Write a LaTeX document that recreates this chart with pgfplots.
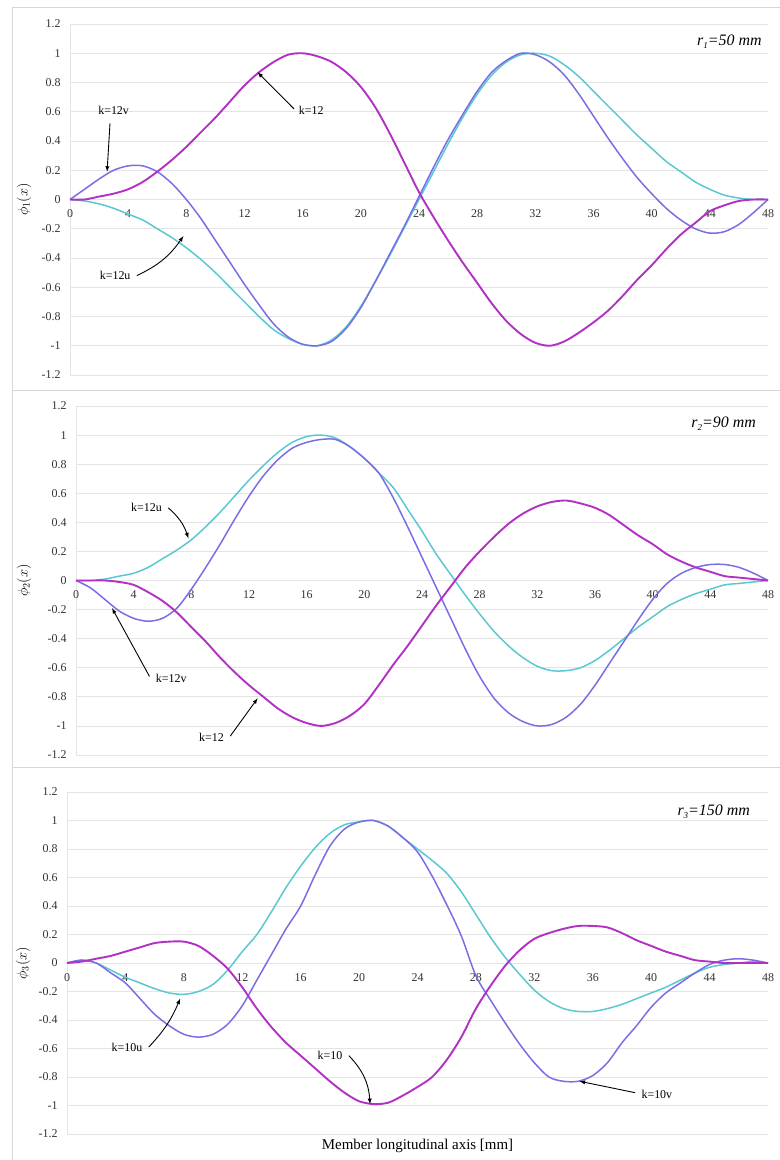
\documentclass[border=0pt]{standalone}
\usepackage{pgfplots}
\pgfplotsset{compat=1.18}
\usepackage{pgfplotstable}
\usepackage{fontspec}
\setmainfont{Liberation Serif}
\definecolor{cM}{RGB}{178,48,196}
\definecolor{cT}{RGB}{90,200,210}
\definecolor{cV}{RGB}{122,110,228}
\definecolor{gridc}{RGB}{228,228,228}
\definecolor{framec}{RGB}{215,215,215}

\pgfplotstableread{
x m t v
0 0 0 0
1 0.00 -0.01 0.07
2 0.02 -0.03 0.14
3 0.04 -0.06 0.20
4 0.07 -0.10 0.23
5 0.12 -0.14 0.23
6 0.19 -0.20 0.19
7 0.27 -0.26 0.11
8 0.36 -0.33 0.00
9 0.46 -0.41 -0.13
10 0.56 -0.50 -0.28
11 0.67 -0.60 -0.43
12 0.78 -0.70 -0.58
13 0.87 -0.80 -0.72
14 0.94 -0.89 -0.85
15 0.99 -0.95 -0.94
16 1.00 -0.99 -0.99
17 0.98 -1.00 -1.00
18 0.94 -0.96 -0.97
19 0.87 -0.87 -0.88
20 0.77 -0.73 -0.74
21 0.63 -0.56 -0.56
22 0.45 -0.38 -0.37
23 0.25 -0.19 -0.18
24 0.05 0.00 0.02
25 -0.12 0.19 0.22
26 -0.28 0.38 0.41
27 -0.43 0.56 0.58
28 -0.57 0.72 0.74
29 -0.71 0.85 0.87
30 -0.83 0.94 0.95
31 -0.92 0.99 1.00
32 -0.98 1.00 0.99
33 -1.00 0.98 0.94
34 -0.97 0.92 0.85
35 -0.91 0.84 0.72
36 -0.84 0.74 0.57
37 -0.76 0.64 0.42
38 -0.66 0.54 0.28
39 -0.55 0.44 0.15
40 -0.45 0.35 0.04
41 -0.34 0.26 -0.06
42 -0.24 0.19 -0.14
43 -0.16 0.12 -0.20
44 -0.08 0.07 -0.23
45 -0.04 0.03 -0.22
46 -0.01 0.01 -0.17
47 0.00 0.00 -0.09
48 0 0 0
}\dataA

\pgfplotstableread{
x m t v
0 0 0 0
1 0 0.00 -0.05
2 0 0.01 -0.13
3 -0.01 0.03 -0.21
4 -0.03 0.05 -0.26
5 -0.08 0.09 -0.28
6 -0.14 0.15 -0.26
7 -0.22 0.21 -0.19
8 -0.32 0.28 -0.06
9 -0.42 0.37 0.09
10 -0.53 0.47 0.25
11 -0.63 0.58 0.42
12 -0.72 0.69 0.58
13 -0.80 0.79 0.72
14 -0.88 0.88 0.83
15 -0.94 0.95 0.91
16 -0.98 0.99 0.95
17 -1.00 1.00 0.97
18 -0.98 0.98 0.97
19 -0.93 0.92 0.92
20 -0.85 0.84 0.84
21 -0.72 0.74 0.74
22 -0.58 0.64 0.57
23 -0.45 0.49 0.37
24 -0.31 0.34 0.16
25 -0.17 0.18 -0.05
26 -0.04 0.04 -0.26
27 0.09 -0.10 -0.47
28 0.20 -0.23 -0.66
29 0.30 -0.35 -0.81
30 0.39 -0.45 -0.91
31 0.46 -0.53 -0.97
32 0.51 -0.59 -1.00
33 0.54 -0.62 -0.99
34 0.55 -0.62 -0.94
35 0.53 -0.60 -0.85
36 0.50 -0.55 -0.72
37 0.45 -0.48 -0.57
38 0.38 -0.40 -0.42
39 0.31 -0.32 -0.27
40 0.25 -0.25 -0.13
41 0.18 -0.18 -0.02
42 0.13 -0.13 0.05
43 0.09 -0.09 0.09
44 0.06 -0.06 0.11
45 0.03 -0.03 0.11
46 0.02 -0.02 0.09
47 0.01 -0.01 0.05
48 0 0 0
}\dataB

\pgfplotstableread{
x m t v
0 0 0 0
1 0.01 0.02 0.02
2 0.03 0.00 0.00
3 0.05 -0.05 -0.07
4 0.08 -0.10 -0.14
5 0.11 -0.14 -0.25
6 0.14 -0.18 -0.36
7 0.15 -0.21 -0.44
8 0.15 -0.22 -0.50
9 0.12 -0.20 -0.52
10 0.05 -0.15 -0.50
11 -0.04 -0.05 -0.43
12 -0.17 0.08 -0.30
13 -0.32 0.20 -0.12
14 -0.45 0.36 0.06
15 -0.56 0.53 0.24
16 -0.65 0.68 0.40
17 -0.74 0.81 0.62
18 -0.83 0.91 0.82
19 -0.91 0.97 0.94
20 -0.97 0.99 0.99
21 -0.99 1.00 1.00
22 -0.98 0.96 0.96
23 -0.93 0.88 0.88
24 -0.87 0.80 0.78
25 -0.80 0.72 0.61
26 -0.68 0.63 0.41
27 -0.52 0.50 0.19
28 -0.32 0.34 -0.09
29 -0.16 0.18 -0.26
30 -0.02 0.04 -0.42
31 0.09 -0.08 -0.57
32 0.17 -0.19 -0.70
33 0.21 -0.27 -0.80
34 0.24 -0.32 -0.83
35 0.26 -0.34 -0.83
36 0.26 -0.34 -0.79
37 0.25 -0.32 -0.70
38 0.21 -0.29 -0.56
39 0.16 -0.25 -0.44
40 0.12 -0.21 -0.31
41 0.08 -0.17 -0.21
42 0.05 -0.12 -0.14
43 0.02 -0.07 -0.07
44 0.01 -0.03 -0.01
45 0.00 -0.01 0.02
46 0 0.00 0.03
47 0 0.01 0.02
48 0 0 0
}\dataC

\pgfplotsset{
  panel/.style={
    scale only axis,
    xmin=0, xmax=48, ymin=-1.2, ymax=1.2,
    axis x line=middle, axis y line=left,
    axis line style={draw=gridc, line width=0.8pt, -},
    hide obscured x ticks=false, hide obscured y ticks=false,
    xtick={0,4,8,12,16,20,24,28,32,36,40,44,48},
    xticklabels={0,4,8,12,16,20,24,28,32,36,40,44,48},
    ytick={-1.2,-1,-0.8,-0.6,-0.4,-0.2,0,0.2,0.4,0.6,0.8,1,1.2},
    yticklabels={-1.2,-1,-0.8,-0.6,-0.4,-0.2,0,0.2,0.4,0.6,0.8,1,1.2},
    major tick length=0,
    ymajorgrids, grid style={draw=gridc, line width=0.8pt},
    tick label style={font=\fontsize{12}{13}\selectfont, text=black!80},
    xticklabel style={anchor=north, yshift=-7bp},
    yticklabel style={anchor=east, xshift=-6bp},
    clip=false,
  },
  cm/.style={color=cM, line width=1.9bp, smooth, tension=0.5},
  ct/.style={color=cT, line width=1.5bp, smooth, tension=0.5},
  cv/.style={color=cV, line width=1.5bp, smooth, tension=0.5},
}
\tikzset{
  lab/.style={font=\fontsize{12}{13}\selectfont},
  arr/.style={-latex, black, line width=0.9bp},
  ttl/.style={font=\fontsize{16}{17}\selectfont\itshape, anchor=east},
  ylab/.style={rotate=90, font=\fontsize{14}{15}\selectfont},
}

\begin{document}
\begin{tikzpicture}
\path[use as bounding box] (0,0) rectangle (780bp,-1160bp);
\draw[framec, line width=0.8pt] (12bp,-7bp) -- (780bp,-7bp);
\draw[framec, line width=0.8pt] (12bp,-390bp) -- (780bp,-390bp);
\draw[framec, line width=0.8pt] (12bp,-767bp) -- (780bp,-767bp);
\draw[framec, line width=0.8pt] (12bp,-7bp) -- (12bp,-1160bp);

% Panel 1
\begin{axis}[panel, at={(70bp,-375bp)}, anchor=south west, width=698bp, height=351bp]
\addplot[ct] table[x=x, y=t] {\dataA};
\addplot[cv] table[x=x, y=v] {\dataA};
\addplot[cm] table[x=x, y=m] {\dataA};
\node[ylab] at ([xshift=-46bp]rel axis cs:0,0.5) {$\phi_1(x)$};
\node[ttl] at (axis cs:47.8,1.08) {r\raisebox{-0.35ex}{\small 1}=50 mm};
\node[lab, anchor=west] at (axis cs:15.5,0.61) {k=12};
\draw[arr] (axis cs:15.4,0.62) -- (axis cs:12.9,0.87);
\node[lab] at (axis cs:3.0,0.61) {k=12v};
\draw[arr] (axis cs:2.75,0.52) -- (axis cs:2.55,0.19);
\node[lab, anchor=east] at (axis cs:4.4,-0.52) {k=12u};
\draw[arr] (axis cs:4.6,-0.52) to[bend right=15] (axis cs:7.8,-0.25);
\end{axis}

% Panel 2
\begin{axis}[panel, at={(76bp,-755bp)}, anchor=south west, width=692bp, height=349bp]
\addplot[ct] table[x=x, y=t] {\dataB};
\addplot[cv] table[x=x, y=v] {\dataB};
\addplot[cm] table[x=x, y=m] {\dataB};
\node[ylab] at ([xshift=-52bp]rel axis cs:0,0.5) {$\phi_2(x)$};
\node[ttl] at (axis cs:47.4,1.08) {r\raisebox{-0.35ex}{\small 2}=90 mm};
\node[lab, anchor=east] at (axis cs:6.2,0.50) {k=12u};
\draw[arr] (axis cs:6.4,0.50) to[bend left=15] (axis cs:7.8,0.29);
\node[lab, anchor=west] at (axis cs:5.3,-0.67) {k=12v};
\draw[arr] (axis cs:5.1,-0.66) -- (axis cs:2.5,-0.19);
\node[lab, anchor=east] at (axis cs:10.5,-1.08) {k=12};
\draw[arr] (axis cs:10.7,-1.07) -- (axis cs:12.6,-0.81);
\end{axis}

% Panel 3
\begin{axis}[panel, at={(67bp,-1134bp)}, anchor=south west, width=701bp, height=342bp]
\addplot[ct] table[x=x, y=t] {\dataC};
\addplot[cv] table[x=x, y=v] {\dataC};
\addplot[cm] table[x=x, y=m] {\dataC};
\node[ylab] at ([xshift=-44bp]rel axis cs:0,0.5) {$\phi_3(x)$};
\node[ttl] at (axis cs:47.0,1.06) {r\raisebox{-0.35ex}{\small 3}=150 mm};
\node[lab, anchor=east] at (axis cs:5.4,-0.59) {k=10u};
\draw[arr] (axis cs:5.6,-0.59) to[bend right=10] (axis cs:7.75,-0.25);
\node[lab, anchor=east] at (axis cs:19.1,-0.65) {k=10};
\draw[arr] (axis cs:19.3,-0.65) to[bend left=20] (axis cs:20.75,-0.99);
\node[lab, anchor=west] at (axis cs:39.1,-0.92) {k=10v};
\draw[arr] (axis cs:38.9,-0.91) -- (axis cs:35.1,-0.83);
\node[font=\fontsize{15}{16}\selectfont] at ([yshift=-12bp]rel axis cs:0.5,0) {Member longitudinal axis [mm]};
\end{axis}
\end{tikzpicture}
\end{document}
